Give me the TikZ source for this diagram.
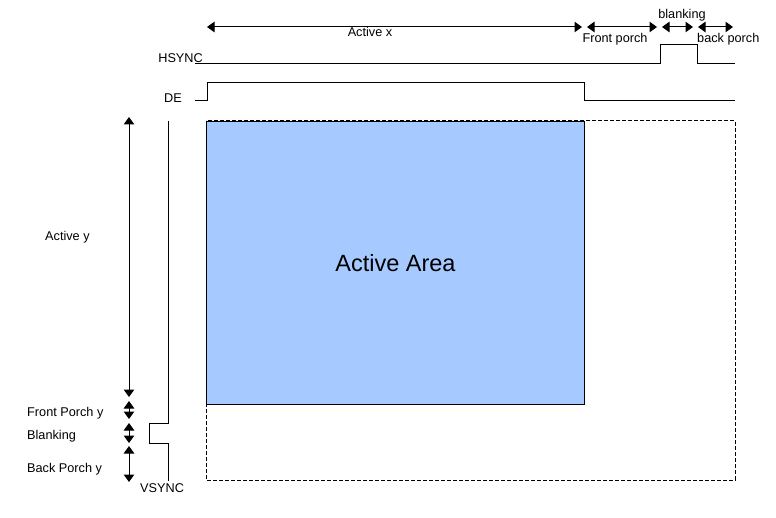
\documentclass[tikz,border=0pt]{standalone}
\usepackage{fontspec}
\setmainfont{Liberation Sans}
\usetikzlibrary{arrows.meta}
\definecolor{activeblue}{RGB}{166,202,255}
\begin{document}
\begin{tikzpicture}[x=1pt,y=-1pt,
  sig/.style={line width=1pt,line join=miter},
  dim/.style={line width=1pt,{Triangle[width=10.5pt,length=7.5pt]}-{Triangle[width=10.5pt,length=7.5pt]}},
  lbl/.style={font=\fontsize{12.7}{15}\selectfont,inner sep=0pt},
  frame/.style={line width=1pt,dash pattern=on 4pt off 2pt},
]
\useasboundingbox (0,0) rectangle (776,518);

% full frame including blanking (dashed) and the active area
\draw[frame] (206,121) rectangle (735,480);
\node[draw,line width=1pt,fill=activeblue,anchor=north west,
      minimum width=378pt,minimum height=283pt,inner sep=0pt,
      font=\fontsize{23.5}{28}\selectfont] (area) at (206,121) {Active Area};

% horizontal timing dimensions
\coordinate (ax0) at (207,27);  \coordinate (ax1) at (582,27);
\coordinate (fp0) at (587,27);  \coordinate (fp1) at (657,27);
\coordinate (bl0) at (662,27);  \coordinate (bl1) at (693,27);
\coordinate (bp0) at (698,27);  \coordinate (bp1) at (733,27);
\draw[dim] (ax0) -- (ax1);
\draw[dim] (fp0) -- (fp1);
\draw[dim] (bl0) -- (bl1);
\draw[dim] (bp0) -- (bp1);
\node[lbl,anchor=base] (tax) at (370,37) {Active x};
\node[lbl,anchor=base] (tfp) at (615,43) {Front porch};
\node[lbl,anchor=base] (tbl) at (682,19) {blanking};
\node[lbl,anchor=base west] (tbp) at (697,43) {back porch};

% HSYNC and DE waveforms
\node[lbl,anchor=base east] (ths) at (203,63) {HSYNC};
\draw[sig] (195,64) -- (660,64) -- (660,45) -- (697,45) -- (697,64) -- (735,64);
\node[lbl,anchor=base east] (tde) at (182,103) {DE};
\draw[sig] (195,101) -- (207,101) -- (207,83) -- (584,83) -- (584,101) -- (735,101);

% vertical timing dimensions
\coordinate (ay0) at (129,117); \coordinate (ay1) at (129,397);
\coordinate (fy0) at (129,401); \coordinate (fy1) at (129,419);
\coordinate (by0) at (129,423); \coordinate (by1) at (129,443);
\coordinate (py0) at (129,446); \coordinate (py1) at (129,482);
\draw[dim] (ay0) -- (ay1);
\draw[dim] (fy0) -- (fy1);
\draw[dim] (by0) -- (by1);
\draw[dim] (py0) -- (py1);
\node[lbl,anchor=base west] (tay) at (45,241) {Active y};
\node[lbl,anchor=base west] (tfy) at (27,416) {Front Porch y};
\node[lbl,anchor=base west] (tby) at (27,439) {Blanking};
\node[lbl,anchor=base west] (tpy) at (27,472) {Back Porch y};

% VSYNC waveform
\draw[sig] (168,121) -- (168,423) -- (149,423) -- (149,443) -- (168,443) -- (168,481);
\node[lbl,anchor=base west] (tvs) at (140,492) {VSYNC};
\end{tikzpicture}
\end{document}
